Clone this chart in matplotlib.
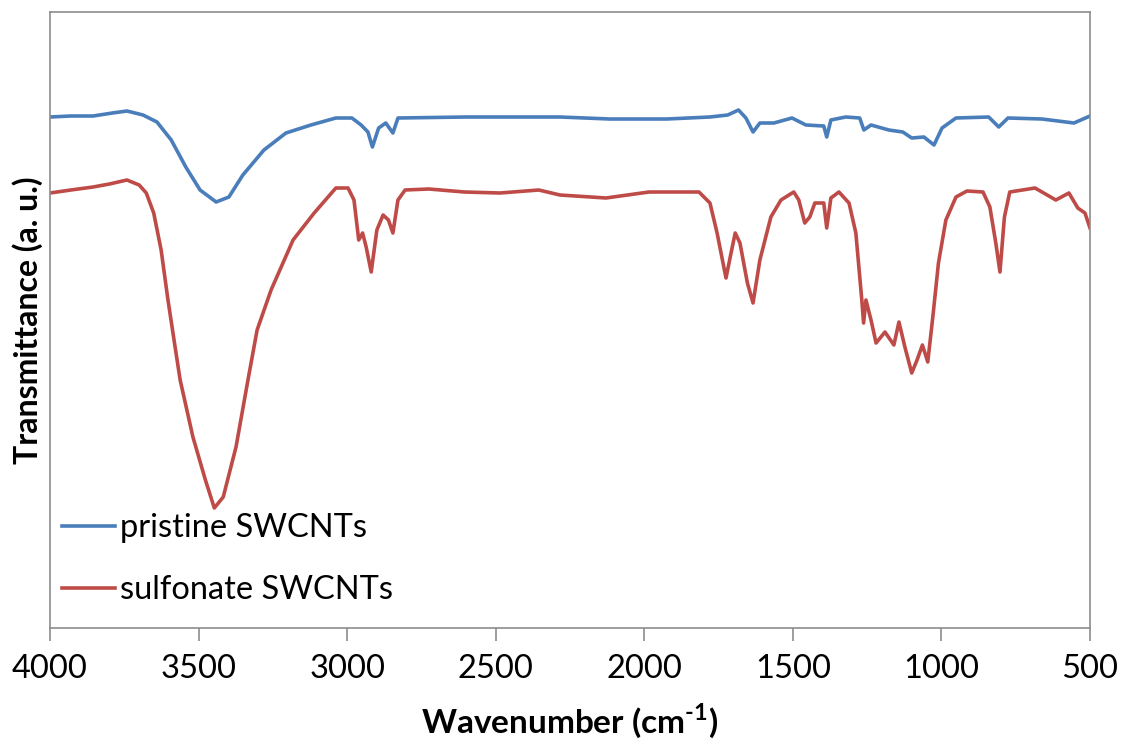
import matplotlib
matplotlib.use("Agg")
import matplotlib.pyplot as plt

# Pristine SWCNTs (wavenumber cm^-1, transmittance a.u.)
pristine_wn = [4000, 3930, 3855, 3790, 3741, 3687, 3640, 3592, 3543, 3495, 3441, 3398,
               3351, 3280, 3206, 3122, 3038, 2984, 2953, 2930, 2915, 2894, 2870, 2846,
               2829, 2600, 2400, 2284, 2116, 1924, 1779, 1719, 1683, 1658, 1634, 1611,
               1564, 1503, 1456, 1396, 1386, 1372, 1322, 1275, 1261, 1237, 1177, 1130,
               1100, 1059, 1025, 998, 951, 841, 807, 776, 662, 554, 500]
pristine_t = [511, 512, 512, 515, 517, 513, 506, 488, 461, 438, 426, 431,
              453, 478, 495, 503, 510, 510, 503, 496, 481, 500, 505, 495,
              510, 511, 511, 511, 509, 509, 511, 513, 518, 510, 496, 505,
              505, 510, 503, 502, 491, 508, 511, 510, 498, 503, 498, 496,
              490, 491, 483, 500, 510, 511, 501, 510, 509, 505, 512]

# Sulfonate SWCNTs
sulfonate_wn = [4000, 3930, 3855, 3800, 3741, 3700, 3676, 3651, 3626, 3603, 3579, 3562,
                3519, 3477, 3447, 3417, 3374, 3335, 3303, 3256, 3182, 3111, 3038, 2997,
                2977, 2961, 2948, 2936, 2919, 2900, 2879, 2861, 2846, 2829, 2805, 2725,
                2606, 2486, 2355, 2284, 2129, 1984, 1816, 1779, 1755, 1725, 1708, 1694,
                1678, 1653, 1634, 1611, 1574, 1540, 1497, 1480, 1460, 1443, 1426, 1396,
                1386, 1372, 1345, 1311, 1288, 1268, 1262, 1254, 1237, 1220, 1190, 1160,
                1143, 1123, 1100, 1082, 1064, 1046, 1029, 1010, 985, 951, 914, 860,
                837, 817, 803, 788, 770, 685, 615, 571, 541, 517, 500]
sulfonate_t = [435, 438, 441, 444, 448, 443, 435, 415, 378, 328, 281, 248,
               191, 148, 120, 131, 181, 246, 298, 338, 388, 415, 440, 440,
               428, 388, 395, 381, 356, 398, 413, 408, 395, 428, 438, 439,
               436, 435, 438, 433, 430, 436, 436, 425, 395, 350, 375, 395,
               385, 345, 325, 368, 411, 428, 436, 428, 405, 411, 425, 425,
               400, 430, 436, 425, 395, 328, 305, 328, 308, 285, 296, 283,
               306, 281, 255, 268, 283, 266, 311, 365, 408, 431, 437, 436,
               421, 385, 356, 411, 436, 440, 428, 435, 420, 415, 400]

labels = ["pristine SWCNTs", "sulfonate SWCNTs"]
colors = ["#4A7EBB", "#BE4B48"]
xticks = [4000, 3500, 3000, 2500, 2000, 1500, 1000, 500]

FONT = "Lato"
plt.rcParams["font.family"] = [FONT, "DejaVu Sans"]
plt.rcParams["mathtext.fontset"] = "custom"
plt.rcParams["mathtext.rm"] = FONT + ":bold"
plt.rcParams["mathtext.bf"] = FONT + ":bold"

fig = plt.figure(figsize=(11.21, 7.47), dpi=100)
ax = fig.add_axes([50 / 1121, 1 - 628 / 747, 1040 / 1121, 616 / 747])

l1, = ax.plot(pristine_wn, pristine_t, color=colors[0], lw=2.6, label=labels[0])
l2, = ax.plot(sulfonate_wn, sulfonate_t, color=colors[1], lw=2.6, label=labels[1])

ax.set_xlim(4000, 500)
ax.set_ylim(0, 616)
ax.set_xticks(xticks)
ax.set_xticklabels([str(t) for t in xticks])
ax.set_yticks([])

for s in ax.spines.values():
    s.set_color("#8C8C8C")
    s.set_linewidth(1.2)

ax.tick_params(axis="x", direction="out", length=9, width=1.2, color="#8C8C8C",
               labelsize=23.5, labelcolor="black", pad=10)

ax.set_xlabel(r"Wavenumber (cm$^{\text{-1}}$)", fontsize=24, fontweight="bold",
              labelpad=12)
ax.set_ylabel("Transmittance (a. u.)", fontsize=23, fontweight="bold", labelpad=5)

leg = ax.legend(handles=[l1, l2], loc="lower left", bbox_to_anchor=(0.0, 0.017),
                frameon=False, fontsize=23.5, handlelength=1.63, handletextpad=0.15,
                labelspacing=0.99, borderpad=0.0, borderaxespad=0.37)

fig.savefig("out.png", dpi=100)
